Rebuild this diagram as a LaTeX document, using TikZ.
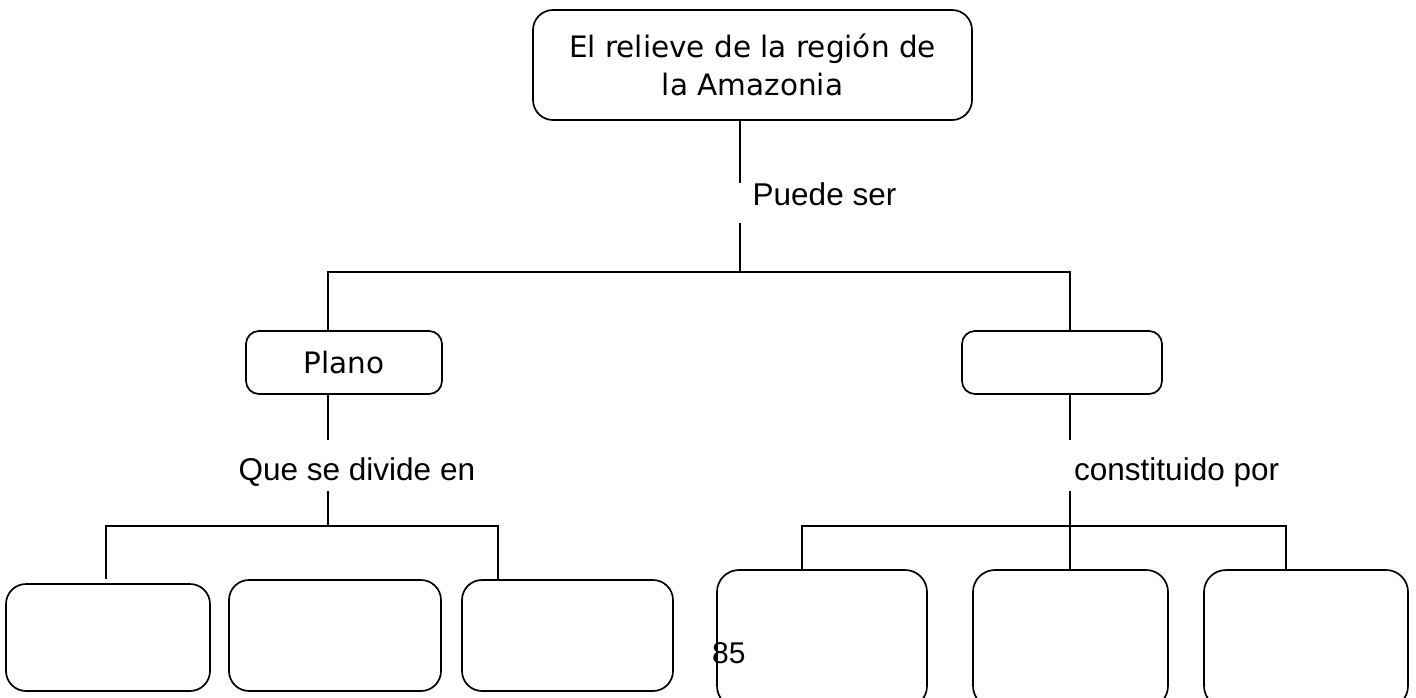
\documentclass[tikz,border=0pt]{standalone}
\usepackage{fontspec}
\setmainfont{DejaVu Sans}
\newfontfamily\arialf{Liberation Sans}
\begin{document}
\begin{tikzpicture}[x=1pt,y=-1pt,
  box/.style={draw, line width=1.7pt, rounded corners=#1, inner sep=0pt, align=center,
    font=\fontsize{29.5}{38}\selectfont},
  box/.default=20pt,
  lbl/.style={inner sep=0pt, anchor=base west, font=\arialf\fontsize{31.5}{36}\selectfont},
  conn/.style={line width=1.7pt}]
\useasboundingbox (0,0) rectangle (1416,698);
\clip (0,0) rectangle (1416,698);
\fill[white] (0,0) rectangle (1416,698);

% boxes
\node[box=20pt, minimum width=439pt, minimum height=110pt] (root) at (752.5,65) {El relieve de la región de\\la Amazonia};
\node[box=13pt, minimum width=196pt, minimum height=63pt] (plano) at (344,362.5) {Plano};
\node[box=13pt, minimum width=200pt, minimum height=63pt] (relleno) at (1062,362.5) {};

\node[box=20pt, minimum width=204pt, minimum height=107pt] (b1) at (108,637.5) {};
\node[box=20pt, minimum width=212pt, minimum height=111pt] (b2) at (335,635.5) {};
\node[box=20pt, minimum width=211pt, minimum height=111pt] (b3) at (567.5,635.5) {};
\node[box=22pt, minimum width=210pt, minimum height=138pt] (b4) at (822,639) {};
\node[box=22pt, minimum width=195pt, minimum height=138pt] (b5) at (1070.5,639) {};
\node[box=22pt, minimum width=204pt, minimum height=138pt] (b6) at (1306,639) {};

% labels
\node[lbl, text height=22pt, text depth=18pt] (puede) at (752.5,205) {Puede ser};
\node[lbl, text height=40pt, text depth=11pt] (divide) at (238.5,480) {Que se divide en};
\node[lbl, text height=40pt, text depth=11pt] (const) at (1074,480) {constituido por};
\node[lbl, font=\arialf\fontsize{30}{36}\selectfont] (pag) at (712,663) {85};

% junctions
\coordinate (j1) at (740,272);
\coordinate (jl) at (328,272);
\coordinate (jr) at (1070,272);
\coordinate (j2) at (328,526);
\coordinate (j2l) at (106,526);
\coordinate (j2r) at (498,526);
\coordinate (j3) at (1070,526);
\coordinate (j3l) at (802,526);
\coordinate (j3r) at (1286,526);

% connectors
\draw[conn] (root.south -| j1) -- (j1 |- puede.north);
\draw[conn] (j1 |- puede.south) -- (j1);
\draw[conn] (jl |- plano.north) -- (jl) -- (jr) -- (jr |- relleno.north);
\draw[conn] (plano.south -| j2) -- (j2 |- divide.north);
\draw[conn] (j2 |- divide.south) -- (j2);
\draw[conn, shorten <=4pt] (j2l |- b1.north) -- (j2l) -- (j2r) -- (j2r |- b3.north);
\draw[conn] (relleno.south -| j3) -- (j3 |- const.north);
\draw[conn] (j3 |- const.south) -- (j3 |- b5.north);
\draw[conn] (j3l |- b4.north) -- (j3l) -- (j3r) -- (j3r |- b6.north);
\draw[line width=2.3pt] (j3) -- ++(83,0);
\end{tikzpicture}
\end{document}
